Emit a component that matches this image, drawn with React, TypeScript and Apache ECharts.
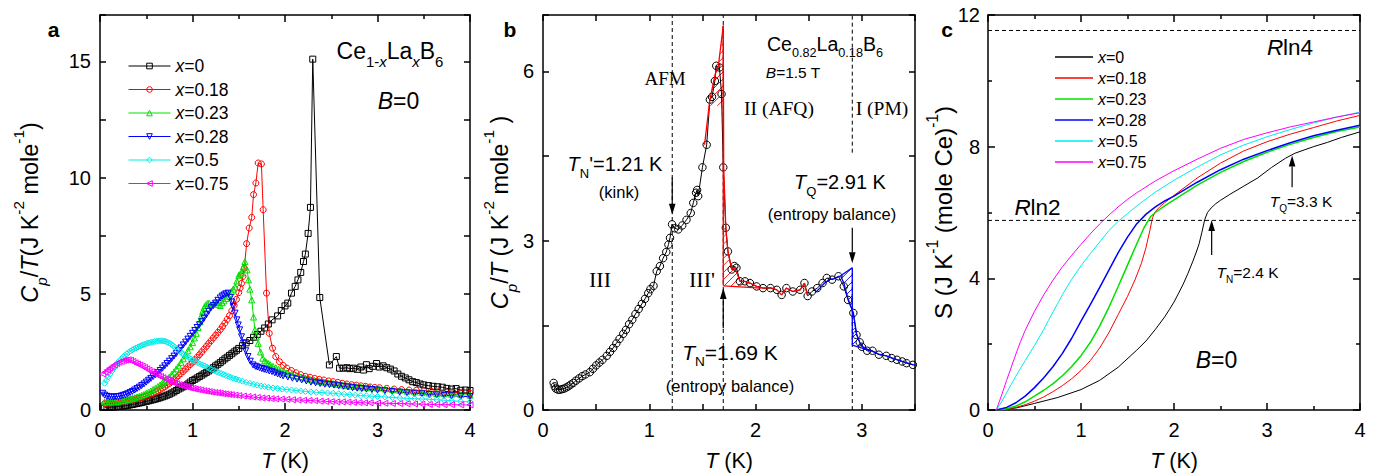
import React, { useEffect, useRef } from 'react';
import * as echarts from 'echarts';

const SANS = '"Liberation Sans", Arial, Helvetica, sans-serif';
const SERIF = '"Liberation Serif", "Times New Roman", serif';

// ---------------- Panel a : Cp/T (J K^-2 mole^-1) vs T (K), B = 0 ----------------
const COMPOSITIONS = ['0', '0.18', '0.23', '0.28', '0.5', '0.75'];

const cpA_x0 = [[0.05,0.12],[0.075,0.12],[0.1,0.12],[0.125,0.125],[0.15,0.13],[0.175,0.14],[0.2,0.15],[0.225,0.16],[0.25,0.17],[0.275,0.185],[0.3,0.2],[0.325,0.22],[0.35,0.24],[0.375,0.26],[0.4,0.28],[0.425,0.3],[0.45,0.32],[0.475,0.345],[0.5,0.37],[0.525,0.395],[0.55,0.42],[0.575,0.445],[0.6,0.47],[0.625,0.5],[0.65,0.53],[0.675,0.565],[0.7,0.6],[0.725,0.64],[0.75,0.68],[0.775,0.73],[0.8,0.78],[0.825,0.84],[0.85,0.9],[0.875,0.95],[0.9,1.0],[0.925,1.06],[0.95,1.12],[0.975,1.2],[1.0,1.27],[1.025,1.32],[1.05,1.38],[1.075,1.44],[1.1,1.5],[1.125,1.56],[1.15,1.62],[1.175,1.68],[1.2,1.75],[1.225,1.82],[1.25,1.9],[1.275,1.97],[1.3,2.04],[1.325,2.12],[1.35,2.2],[1.375,2.27],[1.4,2.35],[1.425,2.42],[1.45,2.5],[1.475,2.57],[1.5,2.65],[1.54,2.77],[1.58,2.89],[1.62,2.99],[1.66,3.13],[1.7,3.25],[1.74,3.39],[1.78,3.53],[1.82,3.7],[1.86,3.88],[1.92,4.05],[1.96,4.28],[2.0,4.48],[2.03,4.6],[2.07,5.03],[2.11,5.32],[2.14,5.6],[2.17,5.92],[2.2,6.39],[2.22,6.71],[2.25,7.6],[2.275,8.72],[2.3,15.1],[2.376,4.84],[2.48,1.94],[2.555,2.3],[2.59,1.8],[2.63,1.8],[2.67,1.82],[2.7,1.78],[2.74,1.8],[2.78,1.75],[2.82,1.85],[2.85,1.72],[2.88,1.95],[2.91,1.78],[2.95,1.88],[2.99,2.0],[3.02,1.85],[3.06,1.9],[3.1,1.82],[3.14,1.76],[3.18,1.68],[3.22,1.55],[3.26,1.45],[3.3,1.38],[3.34,1.3],[3.38,1.22],[3.42,1.18],[3.46,1.12],[3.5,1.08],[3.55,1.05],[3.6,1.02],[3.65,1.0],[3.7,0.98],[3.75,0.93],[3.8,0.9],[3.85,0.92],[3.9,0.85],[3.95,0.86],[4.0,0.84]];
const cpA_x018 = [[0.05,0.28],[0.075,0.29],[0.1,0.3],[0.125,0.31],[0.15,0.32],[0.175,0.335],[0.2,0.35],[0.225,0.365],[0.25,0.38],[0.275,0.395],[0.3,0.41],[0.325,0.43],[0.35,0.45],[0.375,0.47],[0.4,0.49],[0.425,0.51],[0.45,0.54],[0.475,0.57],[0.5,0.6],[0.525,0.64],[0.55,0.68],[0.575,0.72],[0.6,0.77],[0.625,0.82],[0.65,0.88],[0.675,0.94],[0.7,1.0],[0.725,1.07],[0.75,1.14],[0.775,1.22],[0.8,1.3],[0.825,1.39],[0.85,1.48],[0.875,1.57],[0.9,1.66],[0.925,1.76],[0.95,1.86],[0.975,1.96],[1.0,2.06],[1.025,2.16],[1.05,2.27],[1.075,2.38],[1.1,2.5],[1.125,2.62],[1.15,2.74],[1.175,2.86],[1.2,2.98],[1.225,3.1],[1.25,3.22],[1.275,3.34],[1.3,3.46],[1.325,3.6],[1.35,3.74],[1.375,3.9],[1.4,4.06],[1.425,4.27],[1.45,4.5],[1.475,4.76],[1.5,5.05],[1.515,5.25],[1.53,5.45],[1.545,5.75],[1.56,6.1],[1.585,7.16],[1.613,7.83],[1.64,8.29],[1.66,9.27],[1.685,9.77],[1.71,10.63],[1.745,10.59],[1.764,8.62],[1.8,5.03],[1.83,3.3],[1.865,2.66],[1.9,2.3],[1.94,2.08],[1.98,1.92],[2.02,1.8],[2.07,1.7],[2.12,1.6],[2.17,1.52],[2.22,1.45],[2.27,1.41],[2.32,1.36],[2.37,1.32],[2.42,1.29],[2.47,1.25],[2.52,1.22],[2.57,1.19],[2.62,1.15],[2.67,1.12],[2.72,1.09],[2.77,1.07],[2.82,1.04],[2.87,1.02],[2.92,0.99],[2.97,0.97],[3.02,0.96],[3.1,0.93],[3.18,0.9],[3.26,0.88],[3.34,0.86],[3.42,0.85],[3.5,0.83],[3.58,0.81],[3.66,0.79],[3.74,0.77],[3.82,0.76],[3.9,0.74],[4.0,0.72]];
const cpA_x023 = [[0.05,0.35],[0.075,0.35],[0.1,0.35],[0.125,0.355],[0.15,0.36],[0.175,0.37],[0.2,0.38],[0.225,0.395],[0.25,0.41],[0.275,0.43],[0.3,0.45],[0.325,0.475],[0.35,0.5],[0.375,0.53],[0.4,0.56],[0.425,0.59],[0.45,0.63],[0.475,0.67],[0.5,0.72],[0.525,0.77],[0.55,0.82],[0.575,0.88],[0.6,0.94],[0.625,1.01],[0.65,1.08],[0.675,1.16],[0.7,1.24],[0.725,1.33],[0.75,1.42],[0.775,1.53],[0.8,1.64],[0.825,1.77],[0.85,1.9],[0.875,2.05],[0.9,2.2],[0.925,2.37],[0.95,2.55],[0.975,2.72],[1.0,2.9],[1.02,3.1],[1.04,3.3],[1.06,3.55],[1.08,3.8],[1.095,4.05],[1.11,4.25],[1.125,4.4],[1.14,4.5],[1.16,4.58],[1.18,4.6],[1.2,4.52],[1.22,4.55],[1.24,4.62],[1.26,4.65],[1.28,4.55],[1.3,4.5],[1.32,4.62],[1.34,4.7],[1.36,4.8],[1.38,4.9],[1.4,5.0],[1.42,5.1],[1.44,5.2],[1.46,5.3],[1.48,5.55],[1.5,5.8],[1.515,5.85],[1.53,5.9],[1.55,6.15],[1.566,6.39],[1.59,6.03],[1.605,5.6],[1.62,5.2],[1.64,4.74],[1.66,4.0],[1.675,3.45],[1.69,3.15],[1.71,2.87],[1.735,2.5],[1.76,2.23],[1.78,2.12],[1.8,2.05],[1.82,2.0],[1.84,1.95],[1.87,1.88],[1.9,1.82],[1.93,1.76],[1.96,1.7],[1.99,1.65],[2.02,1.6],[2.07,1.54],[2.12,1.47],[2.17,1.42],[2.22,1.37],[2.27,1.32],[2.32,1.27],[2.37,1.23],[2.42,1.2],[2.47,1.17],[2.52,1.14],[2.57,1.11],[2.62,1.08],[2.67,1.05],[2.72,1.03],[2.77,1.01],[2.82,0.99],[2.87,0.98],[2.92,0.96],[3.0,0.94],[3.08,0.91],[3.16,0.88],[3.24,0.85],[3.32,0.81],[3.4,0.78],[3.48,0.76],[3.56,0.73],[3.64,0.71],[3.72,0.7],[3.8,0.68],[3.9,0.66],[4.0,0.64]];
const cpA_x028 = [[0.03,0.72],[0.05,0.64],[0.075,0.59],[0.1,0.57],[0.125,0.56],[0.15,0.56],[0.175,0.57],[0.2,0.58],[0.225,0.6],[0.25,0.63],[0.275,0.66],[0.3,0.7],[0.325,0.75],[0.35,0.8],[0.375,0.86],[0.4,0.92],[0.425,0.98],[0.45,1.05],[0.475,1.12],[0.5,1.2],[0.525,1.28],[0.55,1.36],[0.575,1.44],[0.6,1.52],[0.625,1.61],[0.65,1.7],[0.675,1.8],[0.7,1.9],[0.725,2.0],[0.75,2.1],[0.775,2.21],[0.8,2.32],[0.825,2.43],[0.85,2.55],[0.875,2.67],[0.9,2.8],[0.925,2.92],[0.95,3.05],[0.975,3.17],[1.0,3.3],[1.025,3.42],[1.05,3.55],[1.075,3.67],[1.1,3.8],[1.125,3.95],[1.15,4.1],[1.175,4.25],[1.2,4.4],[1.225,4.5],[1.25,4.6],[1.275,4.72],[1.3,4.82],[1.32,4.9],[1.34,4.95],[1.36,5.0],[1.385,5.03],[1.41,4.85],[1.425,4.65],[1.44,4.45],[1.46,4.17],[1.48,3.88],[1.495,3.66],[1.51,3.45],[1.53,3.15],[1.55,2.87],[1.575,2.55],[1.6,2.3],[1.625,2.1],[1.655,1.94],[1.68,1.88],[1.7,1.85],[1.725,1.81],[1.75,1.78],[1.775,1.75],[1.8,1.72],[1.83,1.68],[1.86,1.65],[1.89,1.6],[1.92,1.55],[1.95,1.51],[1.98,1.47],[2.03,1.42],[2.08,1.37],[2.13,1.33],[2.18,1.29],[2.23,1.25],[2.28,1.2],[2.33,1.17],[2.38,1.14],[2.43,1.11],[2.48,1.09],[2.53,1.07],[2.58,1.04],[2.63,1.02],[2.68,0.99],[2.73,0.96],[2.78,0.94],[2.83,0.92],[2.88,0.9],[2.94,0.88],[3.0,0.86],[3.08,0.83],[3.16,0.8],[3.24,0.77],[3.32,0.74],[3.4,0.72],[3.48,0.7],[3.56,0.67],[3.64,0.65],[3.72,0.63],[3.8,0.61],[3.9,0.59],[4.0,0.57]];
const cpA_x05 = [[0.05,1.15],[0.07,1.28],[0.09,1.42],[0.11,1.55],[0.13,1.68],[0.15,1.8],[0.17,1.92],[0.19,2.03],[0.21,2.12],[0.23,2.2],[0.25,2.28],[0.27,2.35],[0.29,2.42],[0.31,2.48],[0.33,2.54],[0.35,2.59],[0.37,2.63],[0.39,2.67],[0.41,2.71],[0.43,2.75],[0.45,2.78],[0.47,2.81],[0.49,2.84],[0.51,2.87],[0.53,2.89],[0.55,2.91],[0.57,2.93],[0.59,2.95],[0.61,2.96],[0.63,2.97],[0.65,2.98],[0.67,2.98],[0.69,2.97],[0.71,2.95],[0.73,2.92],[0.75,2.88],[0.77,2.83],[0.79,2.77],[0.81,2.7],[0.83,2.63],[0.85,2.56],[0.87,2.49],[0.89,2.43],[0.91,2.38],[0.935,2.32],[0.96,2.26],[0.985,2.2],[1.01,2.14],[1.035,2.08],[1.06,2.03],[1.085,1.98],[1.11,1.94],[1.135,1.89],[1.16,1.84],[1.185,1.79],[1.21,1.74],[1.235,1.7],[1.26,1.65],[1.285,1.61],[1.31,1.57],[1.335,1.53],[1.36,1.49],[1.385,1.45],[1.41,1.41],[1.44,1.37],[1.47,1.33],[1.5,1.29],[1.54,1.24],[1.58,1.19],[1.62,1.15],[1.66,1.11],[1.7,1.07],[1.74,1.04],[1.78,1.01],[1.82,0.98],[1.87,0.95],[1.92,0.93],[1.97,0.9],[2.02,0.88],[2.07,0.86],[2.12,0.84],[2.17,0.82],[2.22,0.8],[2.28,0.78],[2.34,0.76],[2.4,0.75],[2.46,0.73],[2.52,0.72],[2.58,0.7],[2.64,0.68],[2.7,0.66],[2.76,0.64],[2.82,0.62],[2.88,0.61],[2.94,0.59],[3.0,0.58],[3.08,0.56],[3.16,0.54],[3.24,0.52],[3.32,0.5],[3.4,0.49],[3.48,0.47],[3.56,0.46],[3.64,0.44],[3.72,0.42],[3.8,0.4],[3.9,0.37],[4.0,0.35]];
const cpA_x075 = [[0.03,1.55],[0.055,1.63],[0.08,1.72],[0.105,1.8],[0.13,1.87],[0.155,1.94],[0.18,2.0],[0.205,2.05],[0.23,2.09],[0.255,2.13],[0.28,2.15],[0.305,2.16],[0.33,2.14],[0.355,2.09],[0.38,2.03],[0.405,1.98],[0.43,1.94],[0.455,1.89],[0.48,1.83],[0.505,1.77],[0.53,1.71],[0.555,1.65],[0.58,1.59],[0.605,1.54],[0.63,1.48],[0.655,1.44],[0.68,1.39],[0.705,1.34],[0.73,1.29],[0.755,1.24],[0.78,1.2],[0.805,1.16],[0.83,1.13],[0.855,1.09],[0.88,1.06],[0.905,1.03],[0.93,1.0],[0.955,0.97],[0.98,0.95],[1.005,0.93],[1.03,0.9],[1.06,0.88],[1.09,0.86],[1.12,0.83],[1.15,0.81],[1.18,0.79],[1.21,0.77],[1.24,0.75],[1.27,0.74],[1.3,0.72],[1.33,0.7],[1.36,0.69],[1.39,0.67],[1.42,0.66],[1.46,0.64],[1.5,0.62],[1.55,0.6],[1.6,0.58],[1.65,0.56],[1.7,0.54],[1.75,0.52],[1.8,0.51],[1.85,0.49],[1.9,0.48],[1.96,0.47],[2.02,0.46],[2.08,0.44],[2.14,0.43],[2.2,0.42],[2.26,0.41],[2.32,0.4],[2.38,0.38],[2.44,0.37],[2.5,0.36],[2.56,0.35],[2.62,0.35],[2.68,0.34],[2.74,0.33],[2.8,0.32],[2.86,0.31],[2.92,0.31],[3.0,0.3],[3.08,0.29],[3.16,0.28],[3.24,0.28],[3.32,0.27],[3.4,0.26],[3.48,0.25],[3.56,0.24],[3.64,0.24],[3.72,0.23],[3.8,0.23],[3.9,0.22],[4.0,0.22]];
const cpA = [cpA_x0, cpA_x018, cpA_x023, cpA_x028, cpA_x05, cpA_x075];

// ---------------- Panel b : Ce0.82La0.18B6, B = 1.5 T ----------------
const cpB = [[0.1,0.48],[0.11,0.42],[0.12,0.38],[0.14,0.36],[0.16,0.36],[0.18,0.37],[0.2,0.38],[0.22,0.4],[0.24,0.42],[0.26,0.45],[0.285,0.48],[0.31,0.52],[0.34,0.56],[0.37,0.6],[0.4,0.63],[0.44,0.67],[0.47,0.73],[0.5,0.79],[0.53,0.84],[0.56,0.89],[0.6,0.96],[0.63,1.03],[0.66,1.1],[0.69,1.18],[0.72,1.26],[0.755,1.35],[0.78,1.42],[0.81,1.52],[0.84,1.6],[0.87,1.7],[0.9,1.79],[0.93,1.88],[0.96,1.97],[0.99,2.07],[1.01,2.14],[1.04,2.2],[1.07,2.46],[1.1,2.55],[1.13,2.69],[1.16,2.8],[1.18,2.93],[1.195,3.05],[1.214,3.29],[1.24,3.22],[1.273,3.2],[1.31,3.27],[1.35,3.37],[1.39,3.49],[1.414,3.67],[1.44,3.85],[1.45,3.9],[1.46,3.79],[1.5,4.3],[1.54,4.7],[1.57,5.5],[1.59,5.55],[1.617,5.83],[1.63,6.1],[1.66,6.07],[1.68,5.6],[1.696,4.3],[1.72,3.23],[1.74,2.81],[1.775,2.49],[1.8,2.55],[1.82,2.52],[1.853,2.28],[1.9,2.28],[1.947,2.25],[2.01,2.19],[2.07,2.16],[2.14,2.16],[2.2,2.13],[2.245,2.04],[2.29,2.16],[2.35,2.1],[2.42,2.13],[2.46,2.25],[2.49,2.02],[2.53,2.1],[2.58,2.16],[2.63,2.25],[2.67,2.34],[2.72,2.31],[2.78,2.37],[2.83,2.19],[2.87,1.95],[2.92,1.72],[2.95,1.33],[2.98,1.2],[3.0,1.12],[3.05,1.05],[3.1,1.05],[3.16,0.98],[3.23,0.96],[3.28,0.92],[3.33,0.89],[3.38,0.86],[3.42,0.83],[3.48,0.8]];
const redRise = [[1.52,4.7],[1.57,5.5],[1.62,5.95],[1.65,6.1],[1.696,6.81]];
const redVertical = [[1.696,6.81],[1.696,2.2]];
const redDrop = [[1.696,6.81],[1.7,4.3],[1.72,3.23],[1.74,2.81],[1.775,2.5],[1.8,2.52],[1.82,2.45],[1.853,2.28],[1.9,2.28],[1.947,2.25],[2.01,2.19],[2.07,2.16],[2.14,2.17],[2.2,2.13],[2.245,2.04],[2.29,2.16],[2.35,2.1],[2.42,2.13],[2.46,2.25],[2.49,2.02]];
const redBase = [[1.696,2.2],[2.05,2.16]];
const blueRise = [[2.56,2.08],[2.6,2.15],[2.65,2.25],[2.7,2.32],[2.75,2.33],[2.8,2.38],[2.91,2.52]];
const blueVertical = [[2.91,2.52],[2.91,1.15]];
const blueDrop = [[2.8,2.38],[2.83,2.25],[2.87,1.97],[2.92,1.72],[2.95,1.35],[2.98,1.2],[3.02,1.1],[3.1,1.04],[3.16,0.99],[3.23,0.96],[3.3,0.91],[3.38,0.86],[3.45,0.82],[3.5,0.79]];
const blueBase = [[2.91,1.15],[3.08,1.05]];
const hatchRedUpper = [[1.556,5.39],[1.57,5.5],[1.62,5.95],[1.65,6.1],[1.696,6.81],[1.696,5.39]];
const hatchRedLower = [[1.696,3.5],[1.72,3.23],[1.74,2.81],[1.775,2.5],[1.82,2.45],[1.853,2.28],[1.9,2.25],[1.9,2.19],[1.696,2.2]];
const hatchBlueUpper = [[2.8,2.38],[2.91,2.52],[2.91,1.72],[2.87,1.97],[2.83,2.25]];
const hatchBlueLower = [[2.91,1.72],[2.95,1.35],[2.98,1.2],[3.05,1.08],[2.91,1.15]];
// vertical phase-boundary lines: [T, vFrom, vTo]
const dashedB = [[1.216,0,7],[1.696,0,7],[2.91,0,2.52],[2.91,4.56,7]];
// arrows: [T, vFrom, vTo]
const arrowsB = [[1.216,4.12,3.46],[1.696,1.45,2.16],[2.91,3.23,2.6]];

// ---------------- Panel c : entropy S (J K^-1 (mole Ce)^-1) ----------------
const sC_x0 = [[0.09,0],[0.3,0.06],[0.5,0.2],[0.75,0.38],[1.0,0.62],[1.2,0.9],[1.4,1.3],[1.6,1.82],[1.7,2.1],[1.8,2.45],[1.9,2.83],[1.95,3.05],[2.0,3.28],[2.05,3.55],[2.1,3.83],[2.15,4.15],[2.2,4.5],[2.24,4.8],[2.27,5.05],[2.3,5.4],[2.33,5.78],[2.36,6.0],[2.4,6.14],[2.45,6.27],[2.5,6.37],[2.6,6.55],[2.75,6.8],[2.9,7.05],[3.05,7.37],[3.2,7.65],[3.3,7.8],[3.4,7.9],[3.5,8.0],[3.65,8.13],[3.8,8.28],[4.0,8.45]];
const sC_x018 = [[0.09,0],[0.2,0.03],[0.3,0.08],[0.4,0.16],[0.5,0.27],[0.6,0.4],[0.7,0.56],[0.8,0.74],[0.9,0.95],[1.0,1.2],[1.1,1.5],[1.2,1.88],[1.3,2.35],[1.4,2.9],[1.5,3.45],[1.58,3.95],[1.65,4.46],[1.7,4.95],[1.74,5.45],[1.77,5.85],[1.8,6.03],[1.85,6.18],[1.9,6.3],[2.0,6.52],[2.25,7.05],[2.5,7.5],[2.75,7.87],[3.0,8.15],[3.25,8.38],[3.5,8.58],[3.75,8.78],[4.0,8.95]];
const sC_x023 = [[0.09,0],[0.2,0.04],[0.3,0.12],[0.4,0.25],[0.5,0.42],[0.6,0.6],[0.7,0.8],[0.8,1.04],[0.9,1.32],[1.0,1.65],[1.1,2.05],[1.2,2.55],[1.3,3.12],[1.4,3.75],[1.5,4.4],[1.6,5.05],[1.68,5.55],[1.75,5.88],[1.8,6.0],[1.9,6.2],[2.0,6.38],[2.25,6.83],[2.5,7.22],[2.75,7.55],[3.0,7.83],[3.25,8.07],[3.5,8.28],[3.75,8.46],[4.0,8.6]];
const sC_x028 = [[0.09,0],[0.2,0.08],[0.3,0.22],[0.4,0.42],[0.5,0.68],[0.6,0.98],[0.7,1.32],[0.8,1.72],[0.9,2.18],[1.0,2.7],[1.1,3.2],[1.2,3.72],[1.3,4.25],[1.4,4.78],[1.5,5.25],[1.6,5.66],[1.7,5.95],[1.8,6.17],[1.9,6.35],[2.0,6.5],[2.25,6.92],[2.5,7.3],[2.75,7.62],[3.0,7.88],[3.25,8.12],[3.5,8.33],[3.75,8.5],[4.0,8.65]];
const sC_x05 = [[0.09,0],[0.15,0.27],[0.2,0.52],[0.25,0.78],[0.3,1.03],[0.35,1.27],[0.4,1.5],[0.45,1.73],[0.5,1.96],[0.55,2.2],[0.6,2.45],[0.65,2.72],[0.7,2.98],[0.75,3.24],[0.8,3.5],[0.85,3.74],[0.9,3.97],[1.0,4.38],[1.1,4.75],[1.2,5.1],[1.3,5.45],[1.4,5.73],[1.5,5.97],[1.6,6.2],[1.8,6.62],[2.0,6.98],[2.25,7.38],[2.5,7.75],[2.75,8.05],[3.0,8.3],[3.25,8.52],[3.5,8.72],[3.75,8.9],[4.0,9.05]];
const sC_x075 = [[0.09,0],[0.15,0.48],[0.2,0.9],[0.25,1.3],[0.3,1.7],[0.35,2.08],[0.4,2.42],[0.5,3.0],[0.6,3.5],[0.7,3.95],[0.8,4.35],[0.9,4.7],[1.0,5.03],[1.1,5.35],[1.2,5.65],[1.3,5.92],[1.4,6.17],[1.5,6.4],[1.6,6.6],[1.8,6.96],[2.0,7.27],[2.25,7.62],[2.5,7.95],[2.75,8.22],[3.0,8.42],[3.25,8.6],[3.5,8.75],[3.75,8.9],[4.0,9.03]];
const sC = [sC_x0, sC_x018, sC_x023, sC_x028, sC_x05, sC_x075];
const RLN4 = 11.53;
const RLN2 = 5.76;
const arrowsC = [[2.405,4.71,5.77],[3.27,6.77,7.73]];

// ---------------- styling ----------------
const COLORS = ['#000000', '#ff0000', '#00e000', '#0000ff', '#00eaea', '#ff00ff'];
const SYMBOLS = ['rect', 'circle', 'triangle', 'path://M0,0L10,0L5,10Z', 'diamond', 'path://M10,0L10,10L0,5Z'];
const C_WIDTHS = [1, 1, 1.5, 1.5, 1, 1];
const TRANSPARENT = 'rgba(255,255,255,0)';

function mkRich(fs: number, family = SANS) {
  const sm = fs * 0.65;
  const L = fs * 1.6;
  const base = { fontFamily: family, color: '#000', fill: '#000' };
  return {
    n: { ...base, fontSize: fs, lineHeight: L },
    i: { ...base, fontSize: fs, fontStyle: 'italic', lineHeight: L },
    sub: { ...base, fontSize: sm, verticalAlign: 'bottom', lineHeight: L * 0.5 },
    subi: { ...base, fontSize: sm, fontStyle: 'italic', verticalAlign: 'bottom', lineHeight: L * 0.5 },
    sup: { ...base, fontSize: sm, verticalAlign: 'top', lineHeight: L * 0.6 },
  };
}

function hatchSegments(pts: number[][], spacing: number) {
  const step = spacing * Math.SQRT2;
  const sums = pts.map((p) => p[0] + p[1]);
  const cMin = Math.min(...sums), cMax = Math.max(...sums);
  const segs: number[][] = [];
  for (let c = cMin + step / 2; c < cMax; c += step) {
    const hits: number[][] = [];
    for (let k = 0; k < pts.length; k++) {
      const P = pts[k], Q = pts[(k + 1) % pts.length];
      const fP = P[0] + P[1] - c, fQ = Q[0] + Q[1] - c;
      if ((fP < 0) !== (fQ < 0)) {
        const t = fP / (fP - fQ);
        hits.push([P[0] + t * (Q[0] - P[0]), P[1] + t * (Q[1] - P[1])]);
      }
    }
    hits.sort((a, b) => a[0] - b[0]);
    for (let k = 0; k + 1 < hits.length; k += 2) segs.push([hits[k][0], hits[k][1], hits[k + 1][0], hits[k + 1][1]]);
  }
  return segs;
}

function arrowSeries(arrows: number[][], xi: number, yi: number) {
  return {
    type: 'custom', xAxisIndex: xi, yAxisIndex: yi, silent: true, z: 6,
    data: arrows.map((a) => [a[0], a[1]]),
    renderItem: (params: any, api: any) => {
      const a = arrows[params.dataIndex];
      const p1 = api.coord([a[0], a[1]]);
      const p2 = api.coord([a[0], a[2]]);
      const dx = p2[0] - p1[0], dy = p2[1] - p1[1];
      const len = Math.hypot(dx, dy) || 1;
      const ux = dx / len, uy = dy / len;
      const hl = 11, hw = 3.3;
      const bx = p2[0] - ux * hl, by = p2[1] - uy * hl;
      return {
        type: 'group',
        children: [
          { type: 'line', shape: { x1: p1[0], y1: p1[1], x2: bx, y2: by }, style: { stroke: '#000', lineWidth: 1.2 } },
          { type: 'polygon', shape: { points: [[p2[0], p2[1]], [bx - uy * hw, by + ux * hw], [bx + uy * hw, by - ux * hw]] }, style: { fill: '#000' } },
        ],
      };
    },
  };
}

const axisLineStyle = { color: '#000', width: 1.5 };
function ax(o: any) {
  return {
    type: 'value',
    axisLine: { show: true, onZero: false, lineStyle: axisLineStyle },
    axisTick: { show: true, inside: true, length: 7, lineStyle: axisLineStyle },
    splitLine: { show: false },
    axisLabel: { show: false },
    nameMoveOverlap: false,
    ...o,
  };
}
const minor = { show: true, splitNumber: 2, length: 4, lineStyle: axisLineStyle };
const lbl = (margin: number, extra: any = {}) => ({ show: true, color: '#000', fontSize: 20, fontFamily: SANS, margin, ...extra });
const nameStyle = (fs: number) => ({ fontSize: fs, fontFamily: SANS, color: '#000', lineHeight: fs * 1.6, rich: mkRich(fs) });
const halfTick = { show: true, inside: true, length: 6, lineStyle: axisLineStyle };

function buildOption() {
  const series: any[] = [];

  // panel a
  cpA.forEach((d, i) => {
    series.push({
      type: 'line', name: 'a' + i, xAxisIndex: 0, yAxisIndex: 0, data: d, z: 3,
      symbol: SYMBOLS[i], symbolSize: 6, showSymbol: true, silent: true,
      lineStyle: { color: COLORS[i], width: 1 },
      itemStyle: { color: TRANSPARENT, borderColor: COLORS[i], borderWidth: 1 },
      emphasis: { disabled: true },
    });
  });

  // panel b
  dashedB.forEach((d) => {
    series.push({
      type: 'line', xAxisIndex: 2, yAxisIndex: 2, data: [[d[0], d[1]], [d[0], d[2]]], symbol: 'none', silent: true, z: 1,
      lineStyle: { color: '#000', width: 1, type: [4, 3] },
    });
  });
  const hatchSets = [
    { poly: hatchRedUpper, color: '#ff0000' },
    { poly: hatchRedLower, color: '#ff0000' },
    { poly: hatchBlueUpper, color: '#0000ff' },
    { poly: hatchBlueLower, color: '#0000ff' },
  ];
  series.push({
    type: 'custom', xAxisIndex: 2, yAxisIndex: 2, silent: true, z: 2,
    data: hatchSets.map((h) => h.poly[0]),
    renderItem: (params: any, api: any) => {
      const h = hatchSets[params.dataIndex];
      const pts = h.poly.map((p) => api.coord(p));
      const segs = hatchSegments(pts, 5);
      return {
        type: 'group',
        children: segs.map((s) => ({ type: 'line', shape: { x1: s[0], y1: s[1], x2: s[2], y2: s[3] }, style: { stroke: h.color, lineWidth: 0.9 } })),
      };
    },
  });
  series.push({
    type: 'line', name: 'bdata', xAxisIndex: 2, yAxisIndex: 2, data: cpB, z: 3, silent: true,
    symbol: 'circle', symbolSize: 7.5,
    lineStyle: { color: '#000', width: 1 },
    itemStyle: { color: TRANSPARENT, borderColor: '#000', borderWidth: 1 },
  });
  [[redRise, '#ff0000'], [redVertical, '#ff0000'], [redDrop, '#ff0000'], [redBase, '#ff0000'],
   [blueRise, '#0000ff'], [blueVertical, '#0000ff'], [blueDrop, '#0000ff'], [blueBase, '#0000ff']].forEach(([d, c]: any) => {
    series.push({
      type: 'line', xAxisIndex: 2, yAxisIndex: 2, data: d, symbol: 'none', silent: true, z: 4,
      lineStyle: { color: c, width: 1.3 },
    });
  });
  series.push(arrowSeries(arrowsB, 2, 2));

  // panel c
  [RLN4, RLN2].forEach((v) => {
    series.push({
      type: 'line', xAxisIndex: 4, yAxisIndex: 4, data: [[0, v], [4, v]], symbol: 'none', silent: true, z: 1,
      lineStyle: { color: '#000', width: 1, type: [4, 3] },
    });
  });
  sC.forEach((d, i) => {
    series.push({
      type: 'line', name: 'c' + i, xAxisIndex: 4, yAxisIndex: 4, data: d, symbol: 'none', silent: true, z: 3,
      smooth: false, color: COLORS[i],
      lineStyle: { color: COLORS[i], width: C_WIDTHS[i] },
      itemStyle: { color: COLORS[i] },
    });
  });
  series.push(arrowSeries(arrowsC, 4, 4));

  const texts: any[] = [
    { x: 53.5, y: 29, t: '{b|a}', fs: 21 },
    { x: 510, y: 29.5, t: '{b|b}', fs: 21 },
    { x: 947, y: 29, t: '{b|c}', fs: 21 },
    { x: 390, y: 50.5, t: '{n|Ce}{sub|1-}{subi|x}{n|La}{subi|x}{n|B}{sub|6}', fs: 23 },
    { x: 398.5, y: 100.5, t: '{i|B}{n|=0}', fs: 23 },
    { x: 825, y: 43.5, t: '{n|Ce}{sub|0.82}{n|La}{sub|0.18}{n|B}{sub|6}', fs: 19.5 },
    { x: 793, y: 72.5, t: '{i|B}{n|=1.5 T}', fs: 15.5 },
    { x: 665, y: 78.5, t: '{n|AFM}', fs: 19, family: SERIF },
    { x: 779, y: 108.5, t: '{n|II (AFQ)}', fs: 19.5, family: SERIF },
    { x: 882, y: 108.5, t: '{n|I (PM)}', fs: 19.5, family: SERIF },
    { x: 600, y: 279.5, t: '{n|III}', fs: 22, family: SERIF },
    { x: 702, y: 279.5, t: "{n|III'}", fs: 22, family: SERIF },
    { x: 615, y: 164, t: "{i|T}{sub|N}{n|'=1.21 K}", fs: 20 },
    { x: 619, y: 192, t: '{n|(kink)}', fs: 16.5 },
    { x: 840, y: 181.5, t: '{i|T}{sub|Q}{n|=2.91 K}', fs: 20 },
    { x: 832, y: 214, t: '{n|(entropy balance)}', fs: 16.5 },
    { x: 730, y: 352, t: '{i|T}{sub|N}{n|=1.69 K}', fs: 21 },
    { x: 730, y: 385.5, t: '{n|(entropy balance)}', fs: 16.5 },
    { x: 1290, y: 47.5, t: '{i|R}{n|ln4}', fs: 22.5 },
    { x: 1037.5, y: 207.5, t: '{i|R}{n|ln2}', fs: 22.5 },
    { x: 1216.5, y: 359.5, t: '{i|B}{n|=0}', fs: 23 },
    { x: 1301, y: 201, t: '{i|T}{sub|Q}{n|=3.3 K}', fs: 15.5 },
    { x: 1247.5, y: 272.5, t: '{i|T}{sub|N}{n|=2.4 K}', fs: 15.5 },
  ];
  const graphic = texts.map((g) => {
    const rich: any = mkRich(g.fs, g.family || SANS);
    rich.b = { fontSize: g.fs, fontWeight: 'bold', fontFamily: SANS, fill: '#000', lineHeight: g.fs * 1.6 };
    return {
      type: 'text', x: g.x, y: g.y, z: 100, silent: true,
      style: { text: g.t, rich, fill: '#000', fontSize: g.fs, fontFamily: g.family || SANS, align: 'center', verticalAlign: 'middle' },
    };
  });

  const legendText = (fs: number) => ({
    fontSize: fs, fontFamily: SANS, color: '#000',
    rich: { i: { fontSize: fs, fontFamily: SANS, fontStyle: 'italic', color: '#000' } },
  });
  const fmt = (name: string) => `{i|x}=${COMPOSITIONS[Number(name.slice(1))]}`;

  return {
    animation: false,
    backgroundColor: '#ffffff',
    textStyle: { fontFamily: SANS },
    grid: [
      { left: 100, top: 15, width: 370, height: 395, outerBoundsMode: 'none' },
      { left: 543, top: 15, width: 372, height: 395, outerBoundsMode: 'none' },
      { left: 988, top: 15, width: 372, height: 395, outerBoundsMode: 'none' },
    ],
    xAxis: [
      ax({ gridIndex: 0, min: 0, max: 4, interval: 1, position: 'bottom', minorTick: minor, axisLabel: lbl(10),
        name: '{i|T} (K)', nameLocation: 'middle', nameGap: 34, nameTextStyle: nameStyle(21.5) }),
      ax({ gridIndex: 0, min: 0, max: 4, interval: 1, position: 'top', minorTick: minor }),
      ax({ gridIndex: 1, min: 0, max: 3.5, interval: 0.5, position: 'bottom', axisTick: halfTick,
        axisLabel: lbl(10, { formatter: (v: number) => (Number.isInteger(v) ? String(v) : '') }),
        name: '{i|T} (K)', nameLocation: 'middle', nameGap: 34, nameTextStyle: nameStyle(21.5) }),
      ax({ gridIndex: 1, min: 0, max: 3.5, interval: 0.5, position: 'top', axisTick: halfTick }),
      ax({ gridIndex: 2, min: 0, max: 4, interval: 1, position: 'bottom', minorTick: minor, axisLabel: lbl(10),
        name: '{i|T} (K)', nameLocation: 'middle', nameGap: 34, nameTextStyle: nameStyle(21.5) }),
      ax({ gridIndex: 2, min: 0, max: 4, interval: 1, position: 'top', minorTick: minor }),
    ],
    yAxis: [
      ax({ gridIndex: 0, min: 0, max: 17, interval: 2.5, position: 'left', axisTick: halfTick,
        axisLabel: lbl(9, { formatter: (v: number) => (v % 5 === 0 ? String(v) : '') }),
        name: '{i|C}{subi|p}/{i|T}(J K{sup|-2} mole{sup|-1})', nameLocation: 'middle', nameRotate: 90, nameGap: 51, nameTextStyle: nameStyle(23.5) }),
      ax({ gridIndex: 0, min: 0, max: 17, interval: 2.5, position: 'right', axisTick: halfTick }),
      ax({ gridIndex: 1, min: 0, max: 7, interval: 1.5, position: 'left', axisTick: halfTick,
        axisLabel: lbl(9, { formatter: (v: number) => (v % 3 === 0 ? String(v) : '') }),
        name: '{i|C}{subi|p}/{i|T} (J K{sup|-2} mole{sup|-1} )', nameLocation: 'middle', nameRotate: 90, nameGap: 24, nameTextStyle: nameStyle(23.5) }),
      ax({ gridIndex: 1, min: 0, max: 7, interval: 1.5, position: 'right', axisTick: halfTick }),
      ax({ gridIndex: 2, min: 0, max: 12, interval: 4, position: 'left', minorTick: minor, axisLabel: lbl(8),
        name: '{n|S (J K}{sup|-1}{n| (mole Ce)}{sup|-1}{n|)}', nameLocation: 'middle', nameRotate: 90, nameGap: 25, nameTextStyle: nameStyle(24) }),
      ax({ gridIndex: 2, min: 0, max: 12, interval: 4, position: 'right', minorTick: minor }),
    ],
    legend: [
      {
        data: COMPOSITIONS.map((_, i) => ({
          name: 'a' + i,
          itemStyle: { color: TRANSPARENT, borderColor: COLORS[i], borderWidth: 1 },
          lineStyle: { color: COLORS[i], width: 1 },
        })),
        orient: 'vertical', left: 123, top: 52,
        itemWidth: 42, itemHeight: 7, itemGap: 5.5, selectedMode: false, formatter: fmt, textStyle: legendText(17.5),
      },
      {
        data: COMPOSITIONS.map((_, i) => ({ name: 'c' + i, icon: 'rect', itemStyle: { color: COLORS[i] } })),
        orient: 'vertical', left: 1050, top: 44,
        itemWidth: 38, itemHeight: 1.6, itemGap: 5, selectedMode: false, formatter: fmt, textStyle: legendText(16),
      },
    ],
    series,
    graphic,
  };
}

export default function App() {
  const ref = useRef<HTMLDivElement>(null);
  useEffect(() => {
    const chart = echarts.init(ref.current as HTMLDivElement, null, { renderer: 'svg' });
    chart.setOption(buildOption() as any);
    return () => chart.dispose();
  }, []);
  return <div ref={ref} style={{ position: 'fixed', left: 0, top: 0, width: 1378, height: 476, background: '#fff' }} />;
}
